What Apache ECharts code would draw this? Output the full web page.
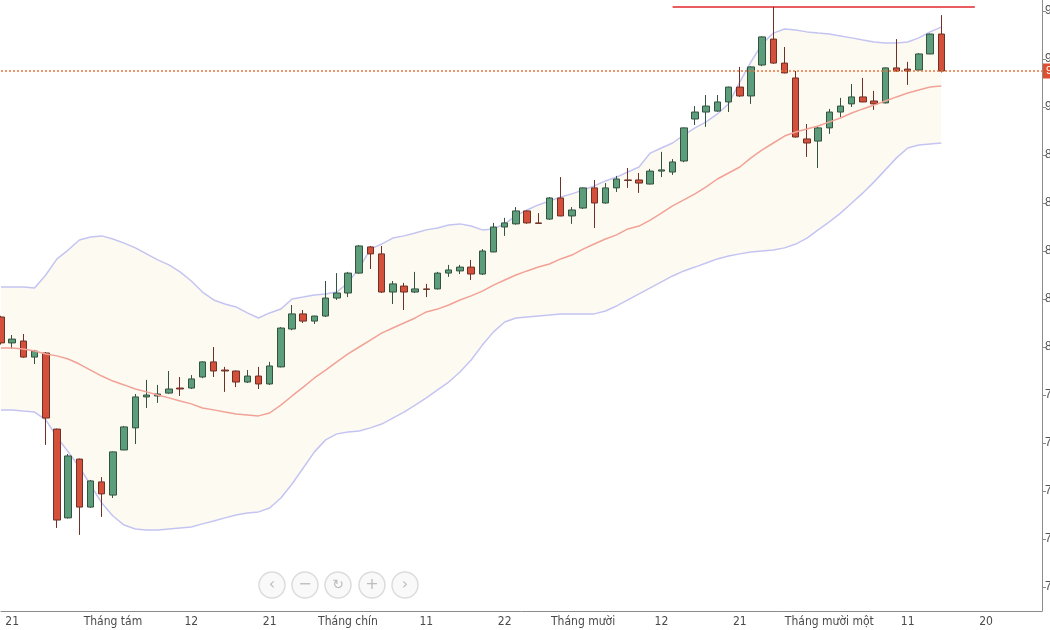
<!DOCTYPE html>
<html>
<head>
<meta charset="utf-8">
<script src="https://cdn.jsdelivr.net/npm/echarts@6/dist/echarts.min.js"></script>
<style>
html,body{margin:0;padding:0;background:#fff;}
#chart{width:1050px;height:630px;}
</style>
</head>
<body>
<div id="chart"></div>
<script>
// Trading days (2020), including a few future slots on the right
const dates = [
'2020-07-20','2020-07-21','2020-07-22','2020-07-23','2020-07-24','2020-07-27','2020-07-28','2020-07-29','2020-07-30','2020-07-31',
'2020-08-03','2020-08-04','2020-08-05','2020-08-06','2020-08-07','2020-08-10','2020-08-11','2020-08-12','2020-08-13','2020-08-14',
'2020-08-17','2020-08-18','2020-08-19','2020-08-20','2020-08-21','2020-08-24','2020-08-25','2020-08-26','2020-08-27','2020-08-28',
'2020-08-31','2020-09-01','2020-09-03','2020-09-04','2020-09-07','2020-09-08','2020-09-09','2020-09-10','2020-09-11','2020-09-14',
'2020-09-15','2020-09-16','2020-09-17','2020-09-18','2020-09-21','2020-09-22','2020-09-23','2020-09-24','2020-09-25','2020-09-28',
'2020-09-29','2020-09-30','2020-10-01','2020-10-02','2020-10-05','2020-10-06','2020-10-07','2020-10-08','2020-10-09','2020-10-12',
'2020-10-13','2020-10-14','2020-10-15','2020-10-16','2020-10-19','2020-10-20','2020-10-21','2020-10-22','2020-10-23','2020-10-26',
'2020-10-27','2020-10-28','2020-10-29','2020-10-30','2020-11-02','2020-11-03','2020-11-04','2020-11-05','2020-11-06','2020-11-09',
'2020-11-10','2020-11-11','2020-11-12','2020-11-13','2020-11-16','2020-11-17','2020-11-18','2020-11-19','2020-11-20','2020-11-23',
'2020-11-24','2020-11-25','2020-11-26','2020-11-27'
];

// x tick labels
const tickDates  = ['2020-07-21','2020-08-03','2020-08-12','2020-08-21','2020-09-01','2020-09-11','2020-09-22','2020-10-01','2020-10-12','2020-10-21','2020-11-02','2020-11-11','2020-11-20'];
const tickLabels = ['21','Tháng tám','12','21','Tháng chín','11','22','Tháng mười','12','21','Tháng mười một','11','20'];

// y tick labels
const yTicks = [70,72,74,76,78,80,82,84,86,88,90,92,94];

// OHLC: [open, close, low, high]
const ohlc = [
[81.25,80.17,80.10,81.30],[80.17,80.33,79.92,80.50],[80.25,79.58,79.55,80.54],[79.58,79.83,79.29,79.88],[79.75,77.04,75.92,79.79],
[76.58,72.79,72.46,76.60],[72.88,75.46,72.85,75.54],[75.33,73.33,72.17,75.35],[73.33,74.42,73.30,74.46],[74.38,73.88,72.92,74.58],
[73.83,75.63,73.71,75.65],[75.71,76.67,75.70,76.71],[76.63,77.92,75.96,78.04],[77.92,78.00,77.46,78.63],[77.96,78.04,77.67,78.42],
[78.08,78.25,78.05,79.00],[78.29,78.25,77.96,78.75],[78.29,78.67,78.25,78.83],[78.75,79.38,78.70,79.40],[79.38,79.00,78.75,80.00],
[79.04,79.00,78.13,79.17],[79.00,78.54,78.33,79.02],[78.54,78.79,78.50,79.04],[78.79,78.46,78.25,79.17],[78.46,79.21,78.42,79.38],
[79.17,80.79,79.15,80.83],[80.75,81.38,80.70,81.75],[81.38,81.08,81.00,81.54],[81.08,81.29,80.96,81.30],[81.29,82.04,81.25,82.75],
[82.04,82.25,81.96,83.08],[82.25,83.08,82.08,83.13],[83.08,84.21,83.05,84.25],[84.17,83.88,83.25,84.21],[83.88,82.29,82.25,84.21],
[82.29,82.63,81.79,82.75],[82.54,82.29,81.54,82.67],[82.29,82.42,82.25,83.13],[82.42,82.40,82.08,82.63],[82.42,83.08,82.40,83.13],
[83.08,83.21,82.92,83.42],[83.17,83.33,83.04,83.42],[83.33,83.04,82.79,83.63],[83.04,84.00,83.00,84.08],[83.96,85.00,83.95,85.17],
[85.00,85.17,84.63,85.38],[85.13,85.67,85.10,85.83],[85.67,85.17,85.13,85.70],[85.17,85.15,85.13,85.58],[85.33,86.21,85.30,86.25],
[86.21,85.46,85.45,87.08],[85.46,85.71,85.13,85.83],[85.79,86.63,85.75,86.65],[86.63,86.00,84.96,86.96],[86.00,86.63,85.98,86.83],
[86.63,87.00,86.46,87.13],[86.96,86.94,86.63,87.46],[86.96,86.83,86.42,87.25],[86.79,87.33,86.77,87.42],[87.33,87.38,87.08,88.13],
[87.29,87.71,87.17,87.83],[87.75,89.13,87.70,89.15],[89.50,89.79,89.25,90.04],[89.79,90.04,89.17,90.50],[89.83,90.21,89.80,90.50],
[90.21,90.83,89.79,90.85],[90.83,90.46,90.42,91.67],[90.46,91.67,90.13,91.70],[91.75,92.92,91.70,92.95],[92.83,91.83,91.80,94.17],
[91.83,91.42,91.40,92.50],[91.21,88.75,88.73,91.50],[88.67,88.50,87.92,89.29],[88.58,89.13,87.46,89.21],[89.13,89.79,88.88,89.92],
[89.79,90.04,89.58,90.38],[90.13,90.42,90.00,90.96],[90.42,90.21,90.20,91.21],[90.25,90.13,89.88,90.67],[90.17,91.63,90.15,91.65],
[91.63,91.50,91.48,92.83],[91.58,91.50,90.92,91.88],[91.54,92.21,91.50,92.25],[92.21,93.04,92.20,93.06],[93.04,91.50,91.44,93.83]
];

// Bollinger bands
const upperBand = [82.50,82.50,82.50,82.46,83.00,83.67,84.04,84.46,84.58,84.63,84.50,84.33,84.13,83.88,83.63,83.42,83.13,82.75,82.29,81.96,
81.79,81.67,81.42,81.21,81.42,81.58,82.00,82.08,82.17,82.21,82.29,82.67,83.29,84.08,84.29,84.54,84.63,84.75,84.88,84.96,
85.08,85.13,85.04,84.88,84.92,85.13,85.46,85.71,85.92,86.08,86.25,86.38,86.54,86.71,86.92,87.08,87.29,87.50,88.08,88.29,
88.50,88.83,89.13,89.38,89.71,90.13,91.04,91.88,92.63,93.08,93.25,93.21,93.13,93.08,93.04,92.96,92.88,92.79,92.71,92.67,
92.67,92.71,92.88,93.13,93.33];
const middleBand = [79.96,79.96,79.92,79.83,79.71,79.63,79.50,79.29,79.04,78.79,78.58,78.42,78.25,78.13,78.00,77.88,77.75,77.63,77.46,77.38,
77.29,77.21,77.17,77.13,77.25,77.58,77.96,78.33,78.71,79.04,79.38,79.71,80.00,80.29,80.58,80.79,81.00,81.21,81.46,81.58,
81.75,81.96,82.13,82.33,82.58,82.79,83.00,83.17,83.33,83.46,83.67,83.83,84.08,84.29,84.50,84.67,84.92,85.04,85.29,85.58,
85.88,86.13,86.38,86.67,87.00,87.25,87.50,87.88,88.21,88.50,88.79,88.96,89.08,89.21,89.38,89.54,89.75,89.92,90.08,90.25,
90.42,90.58,90.71,90.83,90.88];
const lowerBand = [77.38,77.38,77.33,77.29,76.96,76.25,75.63,75.00,74.25,73.50,72.96,72.58,72.42,72.38,72.38,72.42,72.46,72.50,72.63,72.75,
72.88,73.00,73.08,73.13,73.29,73.71,74.29,74.96,75.63,76.13,76.38,76.46,76.50,76.63,76.79,77.04,77.29,77.58,77.88,78.21,
78.54,78.96,79.46,80.08,80.63,81.04,81.21,81.25,81.29,81.33,81.38,81.38,81.38,81.38,81.50,81.71,81.96,82.21,82.46,82.71,
82.96,83.17,83.33,83.50,83.67,83.79,83.88,83.96,84.00,84.04,84.13,84.29,84.54,84.88,85.21,85.58,86.00,86.42,86.88,87.38,
87.88,88.29,88.42,88.46,88.50];

// Resistance line
const resistanceLevel = 94.17;
const resistanceFrom = '2020-10-13';
const resistanceTo = '2020-11-19';

const lastClose = ohlc[ohlc.length - 1][1];

const chart = echarts.init(document.getElementById('chart'), null, {renderer: 'canvas'});

const btnX = [272, 305, 338, 372, 405];
const btnIcons = ['‹', '−', '↻', '+', '›'];
const graphics = [];
btnX.forEach(function (cx, i) {
  graphics.push({type: 'circle', shape: {cx: cx, cy: 585, r: 13}, style: {fill: 'rgba(248,248,248,0.9)', stroke: '#dcdcdc', lineWidth: 1.5}, z: 100});
  graphics.push({type: 'text', x: cx, y: 585, style: {text: btnIcons[i], fill: '#bdbdbd', font: (i === 2 ? '14px' : '16px') + ' DejaVu Sans', align: 'center', verticalAlign: 'middle'}, z: 101});
});

const option = {
  animation: false,
  backgroundColor: '#ffffff',
  grid: {left: 1, right: 8, top: -1, bottom: 19, containLabel: false, outerBoundsMode: 'none'},
  xAxis: {
    type: 'category',
    data: dates,
    boundaryGap: false,
    axisLine: {show: true, lineStyle: {color: '#8c8c8c', width: 1}},
    axisTick: {show: false},
    splitLine: {show: false},
    axisLabel: {
      interval: function (idx, value) { return tickDates.indexOf(value) >= 0; },
      formatter: function (value) { const k = tickDates.indexOf(value); return k >= 0 ? tickLabels[k] : ''; },
      color: '#4a4a4a',
      fontSize: 12,
      fontFamily: "'Liberation Sans Narrow', 'DejaVu Sans Condensed', sans-serif",
      margin: 5,
      hideOverlap: false
    }
  },
  yAxis: {
    type: 'value',
    position: 'right',
    min: 69,
    max: 94.5,
    scale: true,
    splitLine: {show: false},
    axisLine: {show: true, lineStyle: {color: '#8c8c8c', width: 1}},
    axisTick: {show: true, length: 4, customValues: yTicks, lineStyle: {color: '#8c8c8c'}},
    axisLabel: {customValues: yTicks, color: '#555', fontSize: 12, margin: 3, fontFamily: 'Liberation Sans, sans-serif'}
  },
  graphic: graphics,
  series: [
    {
      name: 'Upper', type: 'line', data: upperBand, symbol: 'none', z: 1,
      lineStyle: {color: '#c4c4f2', width: 1.5},
      areaStyle: {color: '#fdfbf1', origin: 'start', opacity: 1}
    },
    {
      name: 'Lower', type: 'line', data: lowerBand, symbol: 'none', z: 2,
      lineStyle: {color: '#c4c4f2', width: 1.5},
      areaStyle: {color: '#ffffff', origin: 'start', opacity: 1}
    },
    {
      name: 'Middle', type: 'line', data: middleBand, symbol: 'none', z: 6,
      lineStyle: {color: '#f2a196', width: 1.5},
      markLine: {
        silent: true, symbol: 'none', animation: false, z: 7,
        lineStyle: {type: [2, 2], color: '#e8743b', width: 1.5, opacity: 1},
        label: {show: true, position: 'end', formatter: lastClose.toFixed(2), color: '#fff', backgroundColor: '#de4f32', padding: [2, 3], fontSize: 11, distance: 1},
        data: [ {yAxis: lastClose} ]
      }
    },
    {
      name: 'Price', type: 'candlestick', data: ohlc, z: 5, barWidth: 7, clip: false,
      itemStyle: {
        color: '#5c9e7b', color0: '#d5503a',
        borderColor: '#34523f', borderColor0: '#6e3127', borderWidth: 1
      },
      markLine: {
        silent: true, symbol: 'none', animation: false,
        data: [
          [
            {coord: [resistanceFrom, resistanceLevel], lineStyle: {type: 'solid', color: '#e2262b', width: 1.5}, label: {show: false}},
            {coord: [resistanceTo, resistanceLevel]}
          ]
        ]
      }
    }
  ]
};
chart.setOption(option);
</script>
</body>
</html>
